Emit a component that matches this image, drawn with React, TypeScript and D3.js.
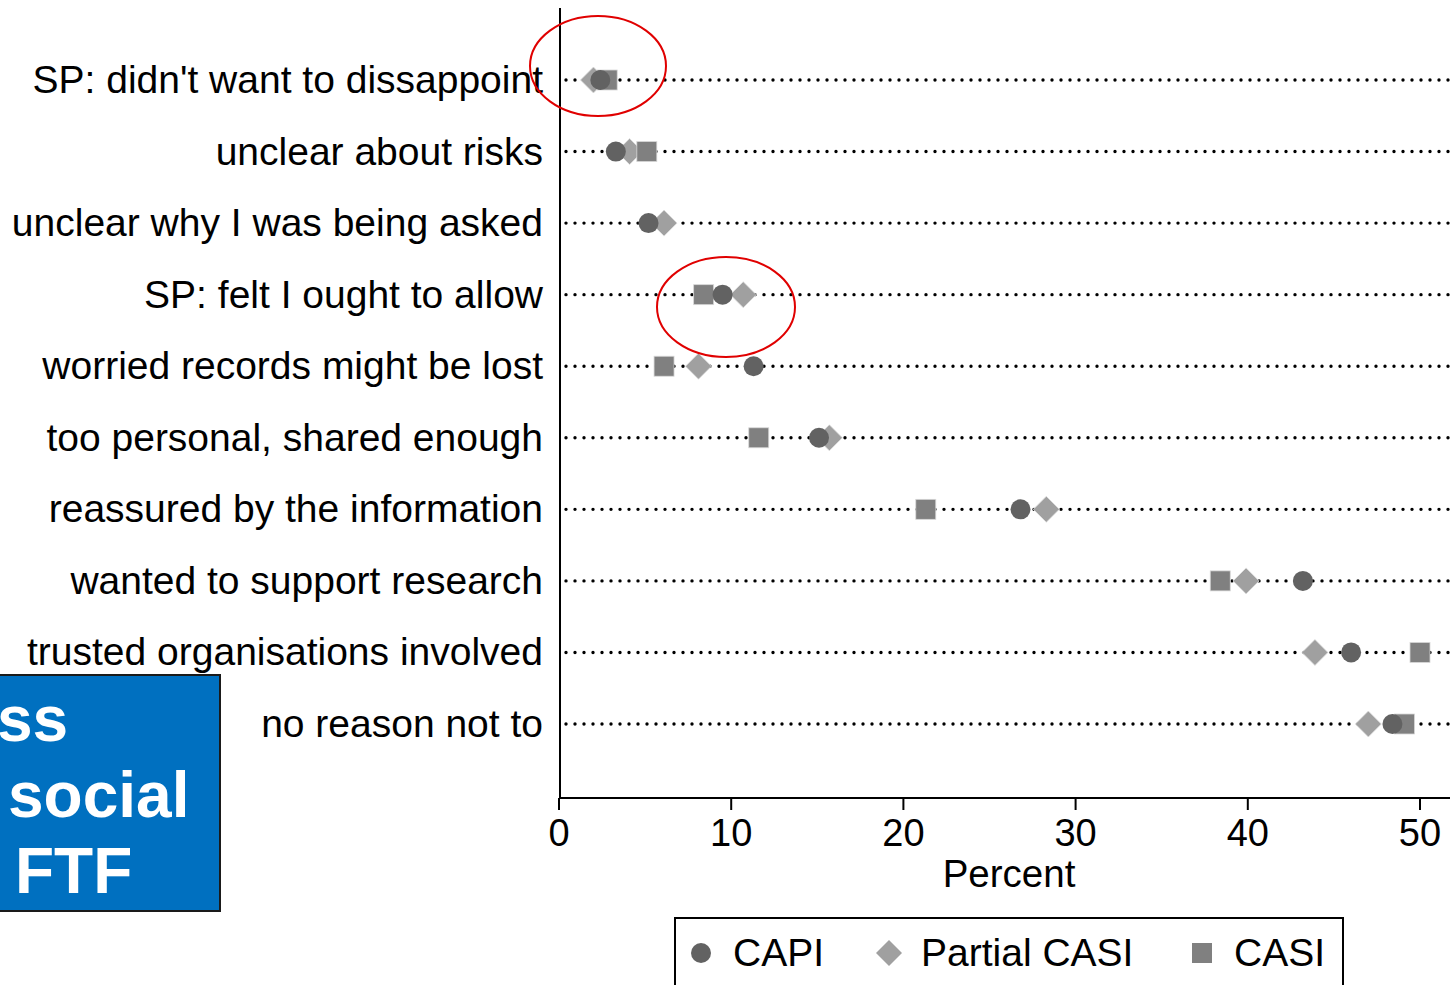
import React from "react";
import * as d3 from "d3";

const categories = [
  "SP: didn't want to dissappoint",
  "unclear about risks",
  "unclear why I was being asked",
  "SP: felt I ought to allow",
  "worried records might be lost",
  "too personal, shared enough",
  "reassured by the information",
  "wanted to support research",
  "trusted organisations involved",
  "no reason not to",
];
const capi: (number | null)[] = [2.4, 3.3, 5.2, 9.5, 11.3, 15.1, 26.8, 43.2, 46.0, 48.4];
const partialCasi: (number | null)[] = [2.0, 4.1, 6.1, 10.7, 8.1, 15.7, 28.3, 39.9, 43.9, 47.0];
const casi: (number | null)[] = [2.8, 5.1, null, 8.4, 6.1, 11.6, 21.3, 38.4, 50.0, 49.1];
const xTicks = [0, 10, 20, 30, 40, 50];
const legendItems = ["CAPI", "Partial CASI", "CASI"];
const boxLines = ["ss", "social", "FTF"];

const FONT = "Arial, 'Liberation Sans', Helvetica, sans-serif";
const C_CAPI = "#626262";
const C_PART = "#a0a0a0";
const C_CASI = "#808080";

export default function App() {
  const W = 1450, H = 985;
  const x = d3.scaleLinear().domain([0, 50]).range([559, 1420]);
  const y = d3.scalePoint<string>().domain(categories).range([80, 724]);
  const axisY = 798;

  const diamondPath = (cx: number, cy: number, r: number) =>
    `M${cx},${cy - r}L${cx + r},${cy}L${cx},${cy + r}L${cx - r},${cy}Z`;

  return (
    <div style={{ position: "absolute", left: 0, top: 0 }}>
      <svg width={W} height={H} style={{ display: "block", background: "#fff" }}>
        {categories.map((c) => (
          <line key={c} x1={566} x2={W} y1={y(c)} y2={y(c)} stroke="#000" strokeWidth={3.4}
            strokeDasharray="0 9" strokeLinecap="round" />
        ))}
        <line x1={560} x2={560} y1={8} y2={axisY + 1} stroke="#000" strokeWidth={2} />
        <line x1={559} x2={W} y1={axisY} y2={axisY} stroke="#000" strokeWidth={2} />
        {xTicks.map((t) => (
          <g key={t}>
            <line x1={x(t)} x2={x(t)} y1={axisY} y2={axisY + 12} stroke="#000" strokeWidth={2} />
            <text x={x(t)} y={axisY + 48} textAnchor="middle" fontFamily={FONT} fontSize={38} fill="#000">{t}</text>
          </g>
        ))}
        <text x={1009} y={887} textAnchor="middle" fontFamily={FONT} fontSize={38.5} fill="#000">Percent</text>
        {categories.map((c) => (
          <text key={c} x={543} y={(y(c) as number) + 13} textAnchor="end" fontFamily={FONT} fontSize={39} fill="#000">{c}</text>
        ))}
        {categories.map((c, i) => {
          const cy = y(c) as number;
          return (
            <g key={c}>
              {partialCasi[i] != null && (
                <path d={diamondPath(x(partialCasi[i] as number), cy, 13)} fill={C_PART} stroke="#e0e0e0" strokeWidth={0.8} />
              )}
              {casi[i] != null && (
                <rect x={x(casi[i] as number) - 10} y={cy - 10} width={20} height={20} fill={C_CASI} stroke="#d8d8d8" strokeWidth={0.8} />
              )}
              {capi[i] != null && (
                <circle cx={x(capi[i] as number)} cy={cy} r={10} fill={C_CAPI} />
              )}
            </g>
          );
        })}
        <ellipse cx={598} cy={66} rx={68} ry={50} fill="none" stroke="#e00000" strokeWidth={2} />
        <ellipse cx={726} cy={307} rx={69} ry={50} fill="none" stroke="#e00000" strokeWidth={2} />
        <rect x={-2} y={675} width={222} height={236} fill="#0070c0" stroke="#1a1a1a" strokeWidth={2} />
        <text x={-3} y={741} fontFamily={FONT} fontWeight="bold" fontSize={64} fill="#fff">{boxLines[0]}</text>
        <text x={8} y={817} fontFamily={FONT} fontWeight="bold" fontSize={64} fill="#fff">{boxLines[1]}</text>
        <text x={15} y={893} fontFamily={FONT} fontWeight="bold" fontSize={64} fill="#fff">{boxLines[2]}</text>
        <rect x={675} y={918} width={668} height={80} fill="#fff" stroke="#000" strokeWidth={2} />
        <circle cx={701} cy={953} r={10} fill={C_CAPI} />
        <text x={733} y={966} fontFamily={FONT} fontSize={39} fill="#000">{legendItems[0]}</text>
        <path d={diamondPath(889, 953, 13)} fill={C_PART} />
        <text x={921} y={966} fontFamily={FONT} fontSize={39} fill="#000">{legendItems[1]}</text>
        <rect x={1192} y={943} width={20} height={20} fill={C_CASI} />
        <text x={1234} y={966} fontFamily={FONT} fontSize={39} fill="#000">{legendItems[2]}</text>
      </svg>
    </div>
  );
}
